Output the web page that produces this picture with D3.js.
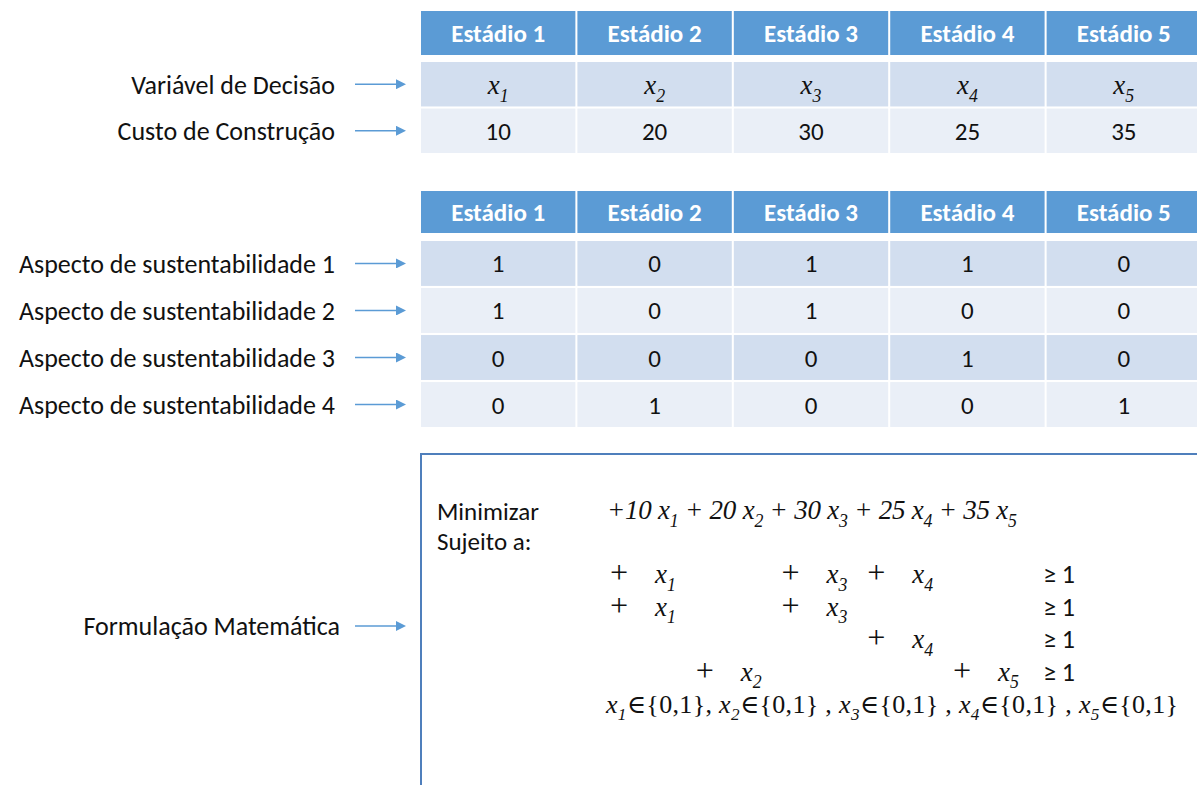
<!DOCTYPE html>
<html>
<head>
<meta charset="utf-8">
<script src="https://cdn.jsdelivr.net/npm/d3@7"></script>
<style>
    body { margin: 0; background: #fff; }
    .label { font-family: Carlito, Lato, "Open Sans", sans-serif; fill: #111; }
    .math { font-family: "Liberation Serif", "DejaVu Serif", serif; font-style: italic; fill: #111; }
</style>
</head>
<body>
<div class="graph"></div>
<script>
// Table data
const stages = ["Estádio 1", "Estádio 2", "Estádio 3", "Estádio 4", "Estádio 5"];
const decisionVars = [1, 2, 3, 4, 5];
const costs = [10, 20, 30, 25, 35];
const topRowLabels = ["Variável de Decisão", "Custo de Construção"];
const aspectLabels = [
    "Aspecto de sustentabilidade 1",
    "Aspecto de sustentabilidade 2",
    "Aspecto de sustentabilidade 3",
    "Aspecto de sustentabilidade 4"
];
const aspectMatrix = [
    [1, 0, 1, 1, 0],
    [1, 0, 1, 0, 0],
    [0, 0, 0, 1, 0],
    [0, 1, 0, 0, 1]
];
const formulaLabel = "Formulação Matemática";
const binarySet = "{0,1}";
const rhs = 1;

const colors = {
    header: "#5b9bd5",
    odd: "#d2deef",
    even: "#eaeff7",
    arrow: "#5b9bd5",
    box: "#4f7fbc"
};

const width = 1197, height = 785;
const fontSize = 26;

const svg = d3.select(".graph")
    .append("svg")
        .attr("width", width)
        .attr("height", height);

svg.append("defs").append("marker")
        .attr("id", "head")
        .attr("viewBox", "0 0 10 10")
        .attr("refX", 1)
        .attr("refY", 5)
        .attr("markerWidth", 10)
        .attr("markerHeight", 10)
        .attr("markerUnits", "userSpaceOnUse")
        .attr("orient", "auto")
    .append("path")
        .attr("d", "M0,0L10,5L0,10z")
        .attr("fill", colors.arrow);

// columns shared by both tables
const xScale = d3.scaleBand()
    .domain(stages)
    .range([421, 1201])
    .paddingInner(0.013);

function arrow(y) {
    svg.append("line")
        .attr("x1", 355)
        .attr("x2", 397)
        .attr("y1", y)
        .attr("y2", y)
        .attr("stroke", colors.arrow)
        .attr("stroke-width", 1.5)
        .attr("marker-end", "url(#head)");
}

// writes parts [{t, sub, upright}] as tspans, subscripts shifted down
function mathText(t, parts, size) {
    const shift = size * 0.28;
    let down = false;
    parts.forEach(p => {
        const s = t.append("tspan").text(p.t);
        const dy = (p.sub ? shift : 0) - (down ? shift : 0);
        if (dy) s.attr("dy", dy);
        if (p.sub) s.attr("font-size", size * 0.66);
        if (p.upright) s.style("font-style", "normal");
        down = !!p.sub;
    });
}

const varParts = i => [{t: "x"}, {t: String(i), sub: true}];

function header(y0, y1) {
    const g = svg.append("g");
    g.selectAll("rect")
        .data(stages)
        .join("rect")
            .attr("x", d => xScale(d))
            .attr("y", y0)
            .attr("width", xScale.bandwidth())
            .attr("height", y1 - y0)
            .attr("fill", colors.header);
    g.selectAll("text")
        .data(stages)
        .join("text")
            .attr("class", "label")
            .attr("x", d => xScale(d) + xScale.bandwidth() / 2)
            .attr("y", (y0 + y1) / 2)
            .attr("dy", "0.36em")
            .attr("text-anchor", "middle")
            .attr("font-size", fontSize - 1)
            .attr("font-weight", "bold")
            .style("fill", "#fff")
            .text(d => d);
}

// draws body rows; cellFn fills each cell's text
function body(labels, range, cellFn) {
    const yScale = d3.scaleBand()
        .domain(labels)
        .range(range)
        .paddingInner(0.045);

    labels.forEach((lab, r) => {
        const yc = yScale(lab) + yScale.bandwidth() / 2;
        svg.append("g").selectAll("rect")
            .data(stages)
            .join("rect")
                .attr("x", d => xScale(d))
                .attr("y", yScale(lab))
                .attr("width", xScale.bandwidth())
                .attr("height", yScale.bandwidth())
                .attr("fill", r % 2 === 0 ? colors.odd : colors.even);

        stages.forEach((s, c) => {
            const t = svg.append("text")
                .attr("x", xScale(s) + xScale.bandwidth() / 2)
                .attr("y", yc)
                .attr("dy", "0.36em")
                .attr("text-anchor", "middle");
            cellFn(t, r, c);
        });

        svg.append("text")
            .attr("class", "label")
            .attr("x", 335)
            .attr("y", yc)
            .attr("dy", "0.36em")
            .attr("text-anchor", "end")
            .attr("font-size", fontSize)
            .text(lab);
        arrow(yc);
    });
}

// first table
header(11, 55);
body(topRowLabels, [62, 153], (t, r, c) => {
    if (r === 0) {
        t.attr("class", "math").attr("font-size", 27);
        mathText(t, varParts(decisionVars[c]), 27);
    } else {
        t.attr("class", "label").attr("font-size", fontSize - 1).text(costs[c]);
    }
});

// second table
header(191, 233);
body(aspectLabels, [241, 427], (t, r, c) => {
    t.attr("class", "label").attr("font-size", fontSize - 1).text(aspectMatrix[r][c]);
});

// formulation box
svg.append("path")
    .attr("d", `M421,${height + 5}V454H${width + 5}`)
    .attr("fill", "none")
    .attr("stroke", colors.box)
    .attr("stroke-width", 2);

svg.append("text")
    .attr("class", "label")
    .attr("x", 340)
    .attr("y", 626)
    .attr("dy", "0.36em")
    .attr("text-anchor", "end")
    .attr("font-size", fontSize)
    .text(formulaLabel);
arrow(626);

svg.append("text")
    .attr("class", "label")
    .attr("x", 437)
    .attr("y", 520)
    .attr("font-size", fontSize - 1)
    .text("Minimizar");
svg.append("text")
    .attr("class", "label")
    .attr("x", 437)
    .attr("y", 550)
    .attr("font-size", fontSize - 1)
    .text("Sujeito a:");

// objective
const obj = svg.append("text")
    .attr("class", "math")
    .attr("x", 607)
    .attr("y", 519)
    .attr("font-size", 27)
    .attr("textLength", 410)
    .attr("lengthAdjust", "spacing");
mathText(obj, costs.flatMap((c, i) => [
    {t: (i === 0 ? "+" : " + ") + c + " "},
    ...varParts(decisionVars[i])
]), 27);

// constraints
const lineY = d3.scalePoint()
    .domain(d3.range(aspectMatrix.length + 1))
    .range([583, 713]);
const varX = d3.scaleLinear()
    .domain([1, 5])
    .range([655, 998]);

aspectMatrix.forEach((row, r) => {
    row.forEach((v, c) => {
        if (!v) return;
        svg.append("text")
            .attr("class", "math")
            .attr("x", varX(decisionVars[c]) - 47)
            .attr("y", lineY(r))
            .attr("font-size", 32)
            .text("+");
        const t = svg.append("text")
            .attr("class", "math")
            .attr("x", varX(decisionVars[c]))
            .attr("y", lineY(r))
            .attr("font-size", 27);
        mathText(t, varParts(decisionVars[c]), 27);
    });
    svg.append("text")
        .attr("class", "label")
        .attr("x", 1043)
        .attr("y", lineY(r))
        .attr("font-size", fontSize)
        .text("≥ " + rhs);
});

// domain of the variables
const dom = svg.append("text")
    .attr("class", "math")
    .attr("x", 606)
    .attr("y", lineY(aspectMatrix.length))
    .attr("font-size", 26)
    .attr("textLength", 572)
    .attr("lengthAdjust", "spacing");
mathText(dom, decisionVars.flatMap((v, i) => [
    ...(i > 0 ? [{t: i === 1 ? ", " : " , ", upright: true}] : []),
    ...varParts(v),
    {t: "∈" + binarySet, upright: true}
]), 26);
</script>
</body>
</html>
